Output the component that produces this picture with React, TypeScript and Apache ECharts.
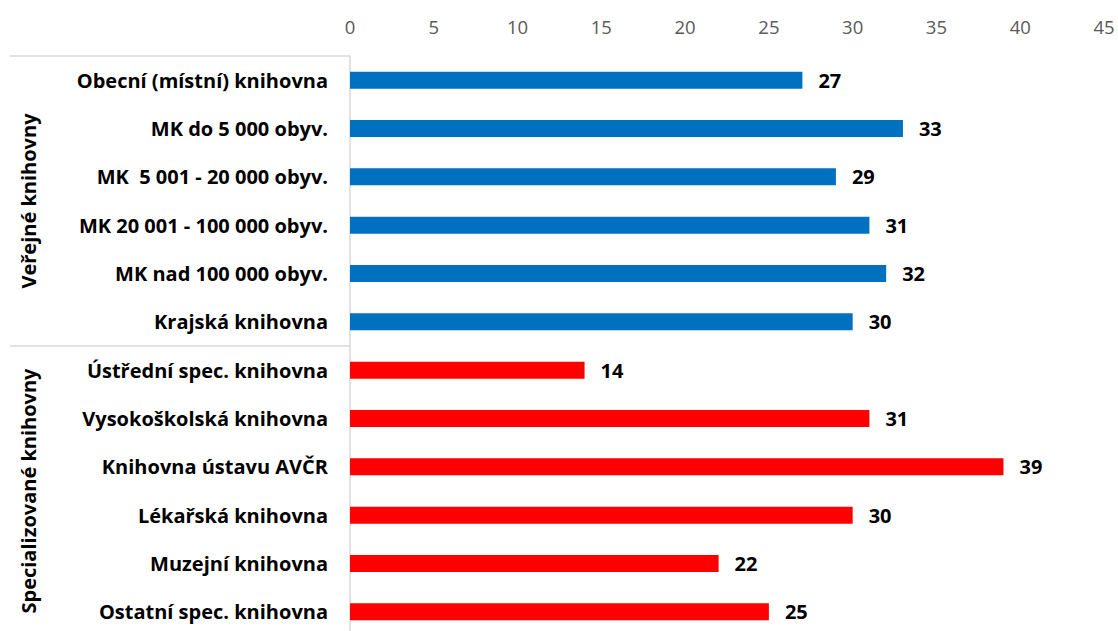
import React, { useEffect, useRef } from "react";
import * as echarts from "echarts";

const categories = [
  "Obecní (místní) knihovna",
  "MK do 5 000 obyv.",
  "MK  5 001 - 20 000 obyv.",
  "MK 20 001 - 100 000 obyv.",
  "MK nad 100 000 obyv.",
  "Krajská knihovna",
  "Ústřední spec. knihovna",
  "Vysokoškolská knihovna",
  "Knihovna ústavu AVČR",
  "Lékařská knihovna",
  "Muzejní knihovna",
  "Ostatní spec. knihovna",
];
const values = [27, 33, 29, 31, 32, 30, 14, 31, 39, 30, 22, 25];
const groups = ["Veřejné knihovny", "Specializované knihovny"];
const groupOfRow = [0, 0, 0, 0, 0, 0, 1, 1, 1, 1, 1, 1];
const groupColors = ["#0070C0", "#FF0000"];
const xTicks = { min: 0, max: 45, interval: 5 };

const FONT = "'Open Sans', Lato, sans-serif";

export default function App() {
  const ref = useRef<HTMLDivElement>(null);
  useEffect(() => {
    const chart = echarts.init(ref.current!, null, { renderer: "svg" });
    chart.setOption({
      animation: false,
      backgroundColor: "#fff",
      textStyle: { fontFamily: FONT },
      grid: { left: 350, right: 14, top: 56, bottom: 4 },
      xAxis: {
        type: "value",
        position: "top",
        min: xTicks.min,
        max: xTicks.max,
        interval: xTicks.interval,
        axisLine: { show: false },
        axisTick: { show: false },
        splitLine: { show: false },
        axisLabel: { color: "#595959", fontSize: 18.5, margin: 20, fontFamily: FONT },
      },
      yAxis: [
        {
          type: "category",
          inverse: true,
          data: categories,
          axisLine: { show: true, lineStyle: { color: "#D9D9D9", width: 1.5 } },
          axisTick: { show: false },
          axisLabel: {
            interval: 0,
            color: "#000",
            fontSize: 20,
            fontWeight: "bold",
            margin: 22,
            fontFamily: FONT,
          },
        },
        {
          type: "category",
          inverse: true,
          position: "left",
          data: groups,
          axisLine: { show: false },
          axisTick: {
            show: true,
            interval: 0,
            length: 340,
            lineStyle: { color: "#D9D9D9", width: 1.5 },
          },
          axisLabel: {
            interval: 0,
            rotate: 90,
            color: "#000",
            fontSize: 20,
            fontWeight: "bold",
            margin: 312,
            fontFamily: FONT,
          },
        },
      ],
      series: [
        {
          type: "bar",
          yAxisIndex: 0,
          barWidth: 17,
          data: values.map((v, i) => ({
            value: v,
            itemStyle: { color: groupColors[groupOfRow[i]] },
          })),
          label: {
            show: true,
            position: "right",
            distance: 16,
            color: "#000",
            fontSize: 20,
            fontWeight: "bold",
            fontFamily: FONT,
          },
        },
      ],
    });
    return () => chart.dispose();
  }, []);
  return (
    <div
      ref={ref}
      style={{ position: "fixed", left: 0, top: 0, width: 1118, height: 640 }}
    />
  );
}
